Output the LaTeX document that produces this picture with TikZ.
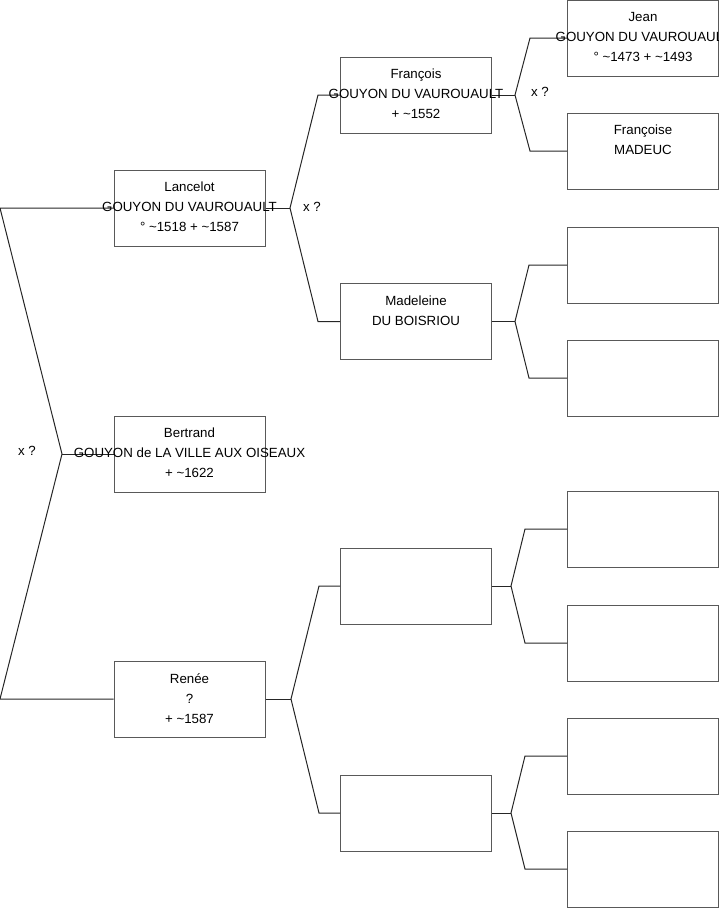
\documentclass[tikz,border=0pt]{standalone}
\usepackage{fontspec}
\setmainfont{Liberation Sans}

\begin{document}
\begin{tikzpicture}[x=1pt, y=-1pt,
    person/.style={draw=black!65, line width=1pt, minimum width=151pt, minimum height=76pt, inner sep=0pt},
    names/.style={align=center, anchor=north, inner sep=0pt, font=\fontsize{13.3}{20}\selectfont, execute at begin node=\strut},
    mark label/.style={font=\fontsize{13.3}{15}\selectfont},
    link/.style={draw=black!85, line width=1pt}]
  \useasboundingbox (0,0) rectangle (719,908);
  % first row
  \node[person] (lancelot) at (189.5,208) {};
  \node[person] (bertrand) at (189.5,454) {};
  \node[person] (renee) at (189.5,699) {};
  % second row
  \node[person] (francois) at (416,95) {};
  \node[person] (madeleine) at (416,321.5) {};
  \node[person] (blankA) at (416,586) {};
  \node[person] (blankB) at (416,813) {};
  % third row
  \node[person] (jean) at (643,38) {};
  \node[person] (francoise) at (643,151) {};
  \node[person] (m1) at (643,265) {};
  \node[person] (m2) at (643,378) {};
  \node[person] (b1) at (643,529) {};
  \node[person] (b2) at (643,643) {};
  \node[person] (b3) at (643,756) {};
  \node[person] (b4) at (643,869) {};
  % left fork
  \coordinate (top) at (0,208);
  \coordinate (mid) at (62,454);
  \coordinate (bot) at (0,699);
  \draw[link] (lancelot.west) -- (top) -- (mid) -- (bot) -- (renee.west);
  \draw[link] (mid) -- (bertrand.west);
  % forks to the parents
  \foreach \p/\u/\l/\v/\e in {lancelot/francois/madeleine/290/318, renee/blankA/blankB/291/319,
      francois/jean/francoise/515/530, madeleine/m1/m2/515/529, blankA/b1/b2/511/525, blankB/b3/b4/511/525} {
    \draw[link] (\p.east) -- (\p.east -| \v,0);
    \draw[link] (\u.west) -- (\u.west -| \e,0) -- (\p.east -| \v,0) -- (\l.west -| \e,0) -- (\l.west);
  }
  % texts
  \node[names] (tlancelot) at ([yshift=-12.5pt]lancelot.north) {Lancelot\\GOUYON DU VAUROUAULT\\° \textasciitilde1518 + \textasciitilde1587};
  \node[names] (tbertrand) at ([yshift=-12.5pt]bertrand.north) {Bertrand\\GOUYON de LA VILLE AUX OISEAUX\\+ \textasciitilde1622};
  \node[names] (trenee) at ([yshift=-12.5pt]renee.north) {Renée\\?\\+ \textasciitilde1587};
  \node[names] (tfrancois) at ([yshift=-12.5pt]francois.north) {François\\GOUYON DU VAUROUAULT\\+ \textasciitilde1552};
  \node[names] (tmadeleine) at ([yshift=-12.5pt]madeleine.north) {Madeleine\\DU BOISRIOU};
  \node[names] (tjean) at ([yshift=-12.5pt]jean.north) {Jean\\GOUYON DU VAUROUAULT\\° \textasciitilde1473 + \textasciitilde1493};
  \node[names] (tfrancoise) at ([yshift=-12.5pt]francoise.north) {Françoise\\MADEUC};
  \node[mark label] (x1) at (27,451) {x ?};
  \node[mark label] (x2) at (312,207) {x ?};
  \node[mark label] (x3) at (540,92) {x ?};
\end{tikzpicture}
\end{document}
